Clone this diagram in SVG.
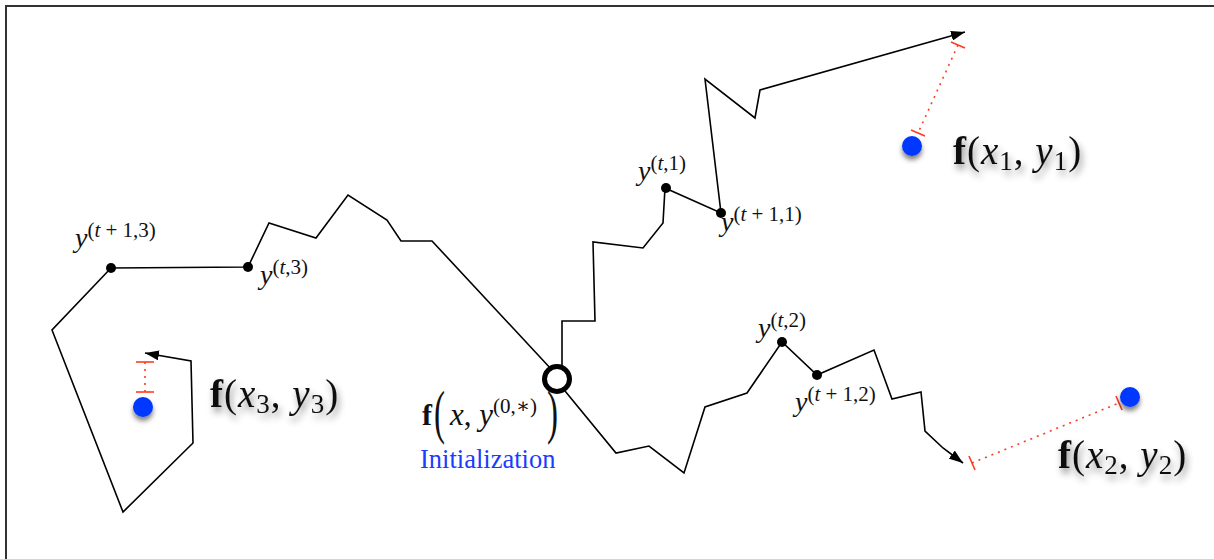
<svg xmlns="http://www.w3.org/2000/svg" width="1214" height="559" viewBox="0 0 1214 559">
<defs>
<style>
.path{fill:none;stroke:#000;stroke-width:1.6;stroke-linejoin:miter}
.dot{fill:#000}
.red{stroke:#ff3b1f;stroke-width:1.6;fill:none}
.dash{stroke-dasharray:2,5}
.blue{fill:#0638ff}
.yl{font-family:"Liberation Serif","DejaVu Serif",serif;font-style:italic;font-size:28px;fill:#111}
.sup{font-size:21px}
.up{font-style:normal}
.math{font-family:"Liberation Serif","DejaVu Serif",serif;font-size:39px;fill:#111}
.big{letter-spacing:1px}
.bf{font-weight:bold;font-style:normal}
.it{font-style:italic}
.sub{font-size:27px;font-style:normal}
.init{font-family:"Liberation Serif","DejaVu Serif",serif;font-size:26.5px;fill:#1a3cff}
</style>
<marker id="arr" viewBox="0 0 14 10" refX="14" refY="5" markerWidth="14" markerHeight="10" markerUnits="userSpaceOnUse" orient="auto">
<path d="M0,0 L14,5 L0,10 Z" fill="#000"/>
</marker>
<filter id="tshadow" x="-20%" y="-40%" width="140%" height="180%">
<feDropShadow dx="2" dy="5" stdDeviation="3.5" flood-color="#000" flood-opacity="0.45"/>
</filter>
<filter id="dshadow" x="-80%" y="-80%" width="260%" height="260%">
<feDropShadow dx="0" dy="4" stdDeviation="2.5" flood-color="#000" flood-opacity="0.5"/>
</filter>
</defs>
<rect width="1214" height="559" fill="#fff"/>
<g id="frame" stroke="#333" stroke-width="2" fill="none">
<path d="M6,559 L6,6 L1214,6"/>
</g>
<g id="connectors">
<path class="path" marker-end="url(#arr)" d="M562,367 L562,321 L595,321 L593,242 L643,248 L663,223 L665,188 L721,213 L705,79 L755,118 L760,90 L965,32"/>
<path class="path" marker-end="url(#arr)" d="M565,391 L616,453 L649,446 L684,473 L705,407 L747,393 L782,342 L817,375 L874,350 L892,399 L921,392 L925,431 L943,448 L963,463"/>
<path class="path" marker-end="url(#arr)" d="M552,370 L432,241 L401,241 L387,220 L348,195 L316,238 L269,223 L248,267 L111,268 L52,330 L123,512 L193,443 L191,361 L145,353"/>
<g id="dist1">
<line class="red dash" x1="958" y1="45" x2="918" y2="133"/>
<line class="red" x1="951" y1="42" x2="965" y2="48"/>
<line class="red" x1="911" y1="130" x2="925" y2="136"/>
</g>
<g id="dist2">
<line class="red dash" x1="972" y1="463" x2="1119" y2="403"/>
<line class="red" x1="969" y1="456" x2="975" y2="470"/>
<line class="red" x1="1116" y1="396" x2="1122" y2="410"/>
</g>
<g id="dist3">
<line class="red dash" x1="145" y1="362" x2="145" y2="392"/>
<line class="red" x1="136" y1="362" x2="154" y2="362"/>
<line class="red" x1="136" y1="392" x2="154" y2="392"/>
</g>
</g>
<g id="iter-points">
<circle class="dot" cx="666" cy="188" r="5"/>
<circle class="dot" cx="721" cy="213" r="5"/>
<circle class="dot" cx="782" cy="342" r="5"/>
<circle class="dot" cx="817" cy="375" r="5"/>
<circle class="dot" cx="248" cy="267" r="5"/>
<circle class="dot" cx="111" cy="268" r="5"/>
<text class="yl" x="638" y="180">y<tspan class="sup up" dy="-10">(<tspan class="it">t</tspan>,1)</tspan></text>
<text class="yl" x="721" y="231">y<tspan class="sup up" dy="-10">(<tspan class="it">t</tspan> + 1,1)</tspan></text>
<text class="yl" x="75" y="247">y<tspan class="sup up" dy="-10">(<tspan class="it">t</tspan> + 1,3)</tspan></text>
<text class="yl" x="260" y="284">y<tspan class="sup up" dy="-10">(<tspan class="it">t</tspan>,3)</tspan></text>
<text class="yl" x="758" y="337">y<tspan class="sup up" dy="-10">(<tspan class="it">t</tspan>,2)</tspan></text>
<text class="yl" x="795" y="411">y<tspan class="sup up" dy="-10">(<tspan class="it">t</tspan> + 1,2)</tspan></text>
</g>
<g id="target1">
<circle class="blue" cx="912" cy="146" r="10" filter="url(#dshadow)"/>
<text class="math big" x="953" y="164" filter="url(#tshadow)"><tspan class="bf">f</tspan>(<tspan class="it">x</tspan><tspan class="sub" dy="6">1</tspan><tspan dy="-6">, </tspan><tspan class="it">y</tspan><tspan class="sub" dy="6">1</tspan><tspan dy="-6">)</tspan></text>
</g>
<g id="target2">
<circle class="blue" cx="1130" cy="397" r="10" filter="url(#dshadow)"/>
<text class="math big" x="1058" y="468" filter="url(#tshadow)"><tspan class="bf">f</tspan>(<tspan class="it">x</tspan><tspan class="sub" dy="6">2</tspan><tspan dy="-6">, </tspan><tspan class="it">y</tspan><tspan class="sub" dy="6">2</tspan><tspan dy="-6">)</tspan></text>
</g>
<g id="target3">
<circle class="blue" cx="143" cy="407" r="10" filter="url(#dshadow)"/>
<text class="math big" x="210" y="407" filter="url(#tshadow)"><tspan class="bf">f</tspan>(<tspan class="it">x</tspan><tspan class="sub" dy="6">3</tspan><tspan dy="-6">, </tspan><tspan class="it">y</tspan><tspan class="sub" dy="6">3</tspan><tspan dy="-6">)</tspan></text>
</g>
<g id="init">
<circle cx="557" cy="379" r="12.5" fill="#fff" stroke="#000" stroke-width="5"/>
<text class="math" x="422" y="425" style="font-size:30px"><tspan class="bf">f</tspan></text>
<text class="math" transform="translate(434,432) scale(0.55,1)" style="font-size:60px">(</text>
<text class="math" x="450" y="425" style="font-size:31px"><tspan class="it">x</tspan>, <tspan class="it">y</tspan><tspan dy="-12" style="font-size:21px">(0,∗)</tspan></text>
<text class="math" transform="translate(547,432) scale(0.55,1)" style="font-size:60px">)</text>
<text class="init" x="420" y="468">Initialization</text>
</g>
</svg>
